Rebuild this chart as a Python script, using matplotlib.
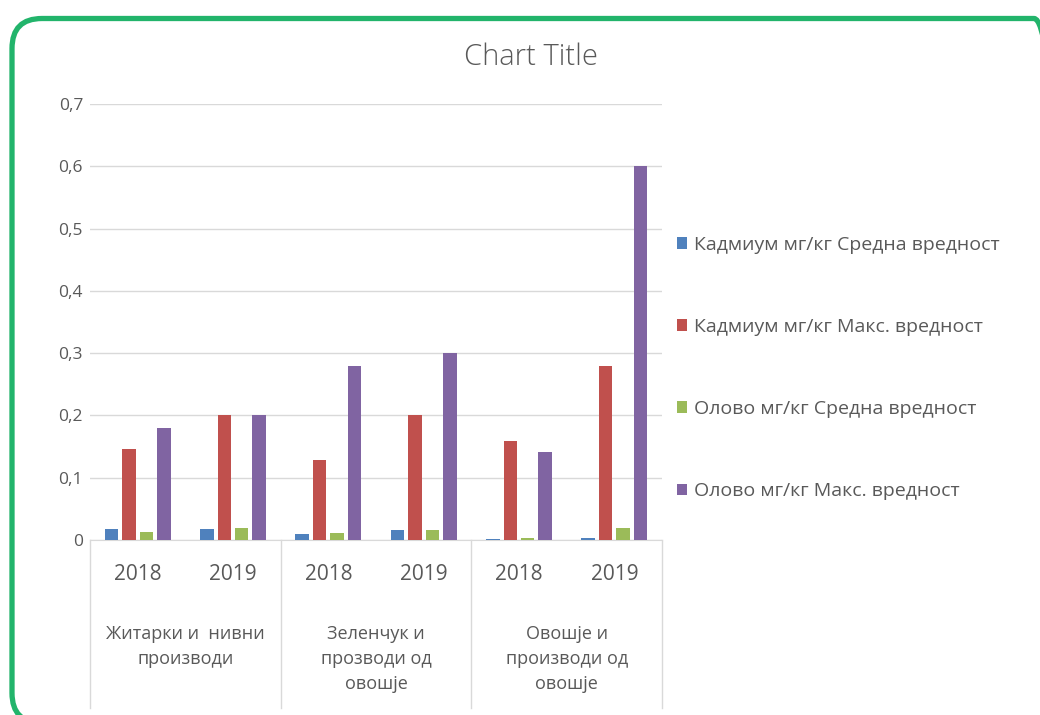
import matplotlib.pyplot as plt
import numpy as np
from matplotlib.patches import FancyBboxPatch
from matplotlib.transforms import IdentityTransform

plt.rcParams["font.family"] = ["Open Sans", "DejaVu Sans"]

years = ["2018", "2019", "2018", "2019", "2018", "2019"]
groups = ["Житарки и  нивни\nпроизводи", "Зеленчук и\nпрозводи од\nовошје",
          "Овошје и\nпроизводи од\nовошје"]
series_names = ["Кадмиум мг/кг Средна вредност", "Кадмиум мг/кг Макс. вредност",
                "Олово мг/кг Средна вредност", "Олово мг/кг Макс. вредност"]
cd_mean = [0.018, 0.018, 0.009, 0.016, 0.002, 0.004]
cd_max = [0.146, 0.2, 0.129, 0.2, 0.159, 0.28]
pb_mean = [0.013, 0.02, 0.011, 0.016, 0.004, 0.02]
pb_max = [0.18, 0.2, 0.28, 0.3, 0.142, 0.6]
colors = ["#4f81bd", "#c0504d", "#9bbb59", "#8064a2"]

grey = "#595959"
W, H = 1040, 715
fig = plt.figure(figsize=(W / 100, H / 100), dpi=100)
ax = fig.add_axes([90 / W, 1 - 540 / H, 572 / W, 436 / H])

x = np.arange(len(years))
stride, width = 0.183, 0.14
handles = []
for i, (vals, c) in enumerate(zip([cd_mean, cd_max, pb_mean, pb_max], colors)):
    b = ax.bar(x + (i - 1.5) * stride, vals, width, color=c, zorder=3)
    handles.append(b)

ax.set_xlim(-0.5, len(years) - 0.5)
ax.set_ylim(0, 0.7)
ax.set_yticks(np.arange(0, 0.71, 0.1))
ax.set_yticklabels(["0"] + [f"0,{k}" for k in range(1, 8)])
ax.tick_params(axis="y", length=0, pad=5, labelsize=12.5, labelcolor=grey)
ax.set_xticks([])
ax.grid(axis="y", color="#d9d9d9", linewidth=1, zorder=0)
for s in ["top", "right", "left"]:
    ax.spines[s].set_visible(False)
ax.spines["bottom"].set_color("#d9d9d9")

tr = ax.get_xaxis_transform()
for sep in [-0.5, 1.5, 3.5, 5.5]:
    ax.plot([sep, sep], [0, -168 / 436], color="#d9d9d9", lw=1, transform=tr,
            clip_on=False)
for xi, yr in zip(x, years):
    ax.text(xi, -35 / 436, yr, transform=tr, ha="center", va="center",
            fontsize=15, color=grey)
for gi, g in enumerate(groups):
    ax.text(2 * gi + 0.5, -85 / 436, g, transform=tr, ha="center", va="top",
            fontsize=13, color=grey, linespacing=1.5)

fig.text(531 / W, 1 - 57 / H, "Chart Title", ha="center", va="center",
         fontsize=21, color=grey, fontweight="light")

fig.legend(handles, series_names, loc="center left",
           bbox_to_anchor=(659 / W, 1 - 368 / H), frameon=False, fontsize=14,
           labelcolor=grey, handlelength=0.55, handleheight=0.55,
           handletextpad=0.35, labelspacing=3.3)

border = FancyBboxPatch((12, -8), 1052, H - 18.5 + 8,
                        boxstyle="round,pad=0,rounding_size=30",
                        transform=IdentityTransform(), fill=False,
                        edgecolor="#22b46b", linewidth=3.8)
fig.patches.append(border)

fig.savefig("out.png", dpi=100)
